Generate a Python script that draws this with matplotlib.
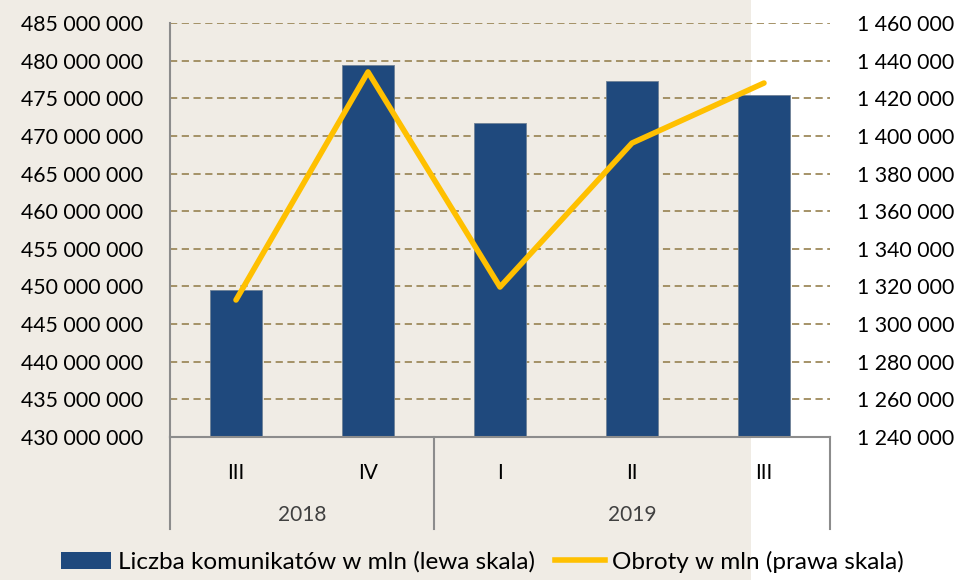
import numpy as np
import matplotlib
matplotlib.use("Agg")
import matplotlib.pyplot as plt
from matplotlib.patches import Rectangle, Patch
from matplotlib.lines import Line2D
from matplotlib.ticker import FuncFormatter, MultipleLocator

plt.rcParams['font.family'] = ['Lato', 'DejaVu Sans']

quarters = ['III', 'IV', 'I', 'II', 'III']
years = ['2018', '2019']
year_span = [2, 3]  # number of quarters in each year
komunikaty = [449.5e6, 479.4e6, 471.7e6, 477.3e6, 475.4e6]
obroty = [1312800, 1434000, 1319700, 1396200, 1428100]

bar_color = '#1f497d'
line_color = '#ffc000'
grid_color = '#9e8a5c'
beige = '#f0ece5'

fig = plt.figure(figsize=(9.65, 5.8), dpi=100)
fig.patches.append(Rectangle((0, 0), 751 / 965, 1, transform=fig.transFigure,
                             facecolor=beige, edgecolor='none', zorder=-10))

ax = fig.add_axes([170 / 965, 143 / 580, 660 / 965, 414 / 580])
ax.set_facecolor('none')
x = np.arange(len(quarters))
ax.bar(x, komunikaty, width=0.4, color=bar_color, edgecolor='#6f8196', linewidth=0.6, zorder=2)
ax.set_xlim(-0.5, len(quarters) - 0.5)
ax.set_ylim(430e6, 485e6)
ax.yaxis.set_major_locator(MultipleLocator(5e6))
fmt = FuncFormatter(lambda v, p: f"{v:,.0f}".replace(",", " "))
ax.yaxis.set_major_formatter(fmt)
ax.grid(axis='y', color=grid_color, linestyle=(0, (4, 2.5)), linewidth=1.3, zorder=0)
ax.set_axisbelow(True)

for s in ['top', 'right']:
    ax.spines[s].set_visible(False)
ax.spines['left'].set_color('#8c8c8c')
ax.spines['left'].set_linewidth(1.5)
ax.spines['bottom'].set_color('#8c8c8c')
ax.spines['bottom'].set_linewidth(1.5)
ax.tick_params(axis='y', length=0, labelsize=15.3, pad=19.5)
ax.tick_params(axis='x', length=0, labelsize=15, pad=19)
ax.set_xticks(x)
ax.set_xticklabels(quarters)

# year level of the axis
sep_depth = -92 / 414
edges = np.concatenate([[0], np.cumsum(year_span)]) - 0.5
for e in edges:
    ax.plot([e, e], [0, sep_depth], color='#8c8c8c', linewidth=1.5,
            transform=ax.get_xaxis_transform(), clip_on=False)
for i, yr in enumerate(years):
    ax.text((edges[i] + edges[i + 1]) / 2, -78 / 414, yr, ha='center', va='center',
            fontsize=15, color='#404040', transform=ax.get_xaxis_transform())

ax2 = ax.twinx()
ax2.plot(x, obroty, color=line_color, linewidth=4, solid_capstyle='round',
         solid_joinstyle='round', zorder=3)
ax2.set_ylim(1240000, 1460000)
ax2.yaxis.set_major_locator(MultipleLocator(20000))
ax2.yaxis.set_major_formatter(fmt)
for s in ['top', 'right', 'left', 'bottom']:
    ax2.spines[s].set_visible(False)
ax2.tick_params(axis='y', length=0, labelsize=15.3, pad=19.5)

handles = [Patch(facecolor=bar_color, edgecolor='none'),
           Line2D([0], [0], color=line_color, linewidth=4)]
labels = ['Liczba komunikatów w mln (lewa skala)', 'Obroty w mln (prawa skala)']
fig.legend(handles, labels, loc='lower center', bbox_to_anchor=(0.5, -0.025), ncol=2,
           frameon=False, fontsize=17.5, handlelength=2.06, handletextpad=0.3,
           columnspacing=0.8)

fig.savefig('out.png', dpi=100)
